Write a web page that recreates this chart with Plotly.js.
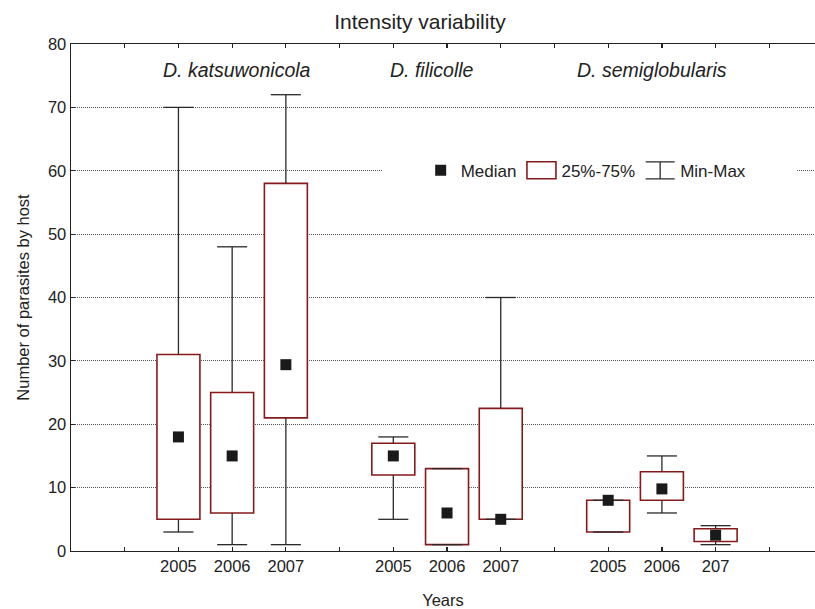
<!DOCTYPE html>
<html><head><meta charset="utf-8">
<script src="https://cdn.plot.ly/plotly-3.0.1.min.js"></script>
<style>html,body{margin:0;padding:0;background:#fff}#chart{width:815px;height:609px}</style>
</head><body><div id="chart"></div>
<script>
// ---- data ----
const species = ['D. katsuwonicola', 'D. filicolle', 'D. semiglobularis'];
const speciesIndex = [0, 0, 0, 1, 1, 1, 2, 2, 2];
const yearLabels = ['2005', '2006', '2007', '2005', '2006', '2007', '2005', '2006', '207'];
const minVals    = [3, 1, 1, 5, 1, 5, 3, 6, 1];
const q1Vals     = [5, 6, 21, 12, 1, 5, 3, 8, 1.5];
const medianVals = [18, 15, 29.4, 15, 6, 5, 8, 9.8, 2.5];
const q3Vals     = [31, 25, 58, 17, 13, 22.5, 8, 12.5, 3.5];
const maxVals    = [70, 48, 72, 18, 13, 40, 8, 15, 4];
const legendNames = ['Median', '25%-75%', 'Min-Max'];

// ---- layout helpers ----
const FONT = 'Arial, "Liberation Sans", sans-serif';
const TXT = '#222';
const BOXRED = '#861a1a';
const groupSize = 3, groupStep = 4, firstPos = 2;
const positions = speciesIndex.map((g, i) => {
  const within = i - speciesIndex.indexOf(g);
  return firstPos + g * groupStep + within;
});
const lastTick = firstPos + (species.length - 1) * groupStep + groupSize;
const tickvals = [], ticktext = [];
for (let t = 1; t <= lastTick; t++) {
  tickvals.push(t);
  const k = positions.indexOf(t);
  ticktext.push(k >= 0 ? yearLabels[k] : '');
}

// whisker segments (outside the boxes) + caps
const capHalf = 0.28;
const wx = [], wy = [];
positions.forEach((p, i) => {
  wx.push(p, p, null, p, p, null, p - capHalf, p + capHalf, null, p - capHalf, p + capHalf, null);
  wy.push(minVals[i], q1Vals[i], null, q3Vals[i], maxVals[i], null,
          minVals[i], minVals[i], null, maxVals[i], maxVals[i], null);
});

const whiskers = {
  type: 'scatter', mode: 'lines', x: wx, y: wy, name: legendNames[2],
  legendrank: 3, line: {color: '#2a2a2a', width: 1.3}, hoverinfo: 'skip'
};
const medians = {
  type: 'scatter', mode: 'markers', x: positions, y: medianVals, name: legendNames[0],
  legendrank: 1, marker: {symbol: 'square', size: 11, color: '#1a1a1a'}
};
const boxes = {
  type: 'bar', x: positions, base: q1Vals, y: q3Vals.map((q, i) => q - q1Vals[i]),
  width: 0.8, name: legendNames[1], legendrank: 2,
  marker: {color: '#ffffff', line: {color: BOXRED, width: 1.6}}
};

const groupShift = [5, -15, -10];
const annotations = species.map((s, g) => ({
  x: firstPos + g * groupStep + 1, y: 75.9, xref: 'x', yref: 'y',
  xshift: groupShift[g],
  text: '<i>' + s + '</i>', showarrow: false,
  font: {family: FONT, size: 19.5, color: TXT}, xanchor: 'center', yanchor: 'middle'
}));

const layout = {
  width: 815, height: 609,
  margin: {l: 71, r: 0, t: 44, b: 58},
  paper_bgcolor: '#fff', plot_bgcolor: '#fff',
  font: {family: FONT, color: TXT, size: 16.5},
  title: {text: 'Intensity variability', font: {family: FONT, size: 21, color: TXT},
          x: 420 / 815, xref: 'container', xanchor: 'center',
          y: 1 - 22 / 609, yref: 'container', yanchor: 'middle'},
  showlegend: true,
  legend: {orientation: 'h', x: 0.47, xanchor: 'left', y: 0.75, yanchor: 'middle',
           bgcolor: 'rgba(255,255,255,0)', font: {family: FONT, size: 17, color: TXT},
           traceorder: 'normal'},
  xaxis: {
    range: [0, 13.85], tickmode: 'array', tickvals: tickvals, ticktext: ticktext,
    ticks: 'inside', ticklen: 4, tickwidth: 1.2, tickcolor: TXT,
    showline: true, linecolor: TXT, linewidth: 1.4, mirror: 'ticks',
    showgrid: false, zeroline: false,
    tickfont: {family: FONT, size: 16.5, color: TXT},
    title: {text: 'Years', font: {family: FONT, size: 16.5, color: TXT}, standoff: 21}
  },
  yaxis: {
    range: [0, 80], tickmode: 'array', tickvals: [0, 10, 20, 30, 40, 50, 60, 70, 80],
    ticks: 'inside', ticklen: 4, tickwidth: 1.2, tickcolor: TXT,
    showline: true, linecolor: TXT, linewidth: 1.4,
    showgrid: true, gridcolor: '#555', gridwidth: 1, griddash: '1px,1px', zeroline: false,
    tickfont: {family: FONT, size: 16.5, color: TXT},
    title: {text: 'Number of parasites by host', font: {family: FONT, size: 16.5, color: TXT}, standoff: 14}
  },
  shapes: [{type: 'rect', xref: 'paper', yref: 'y', x0: (383 - 71) / 744, x1: (797 - 71) / 744,
            y0: 59.7, y1: 60.3, fillcolor: '#fff', line: {width: 0}, layer: 'above'}],
  annotations: annotations
};

Plotly.newPlot('chart', [whiskers, medians, boxes], layout, {displayModeBar: false, staticPlot: true})
.then(function (gd) {
  // legend icons: rectangle for the box, I-beam for min-max
  gd.querySelectorAll('.legend .traces').forEach(function (g) {
    const label = g.querySelector('.legendtext').textContent;
    if (label === legendNames[1]) {
      g.querySelectorAll('.legendpoints path').forEach(function (p) {
        p.setAttribute('d', 'M14.5,8.5H-14.5V-8.5H14.5Z');
      });
    } else if (label === legendNames[2]) {
      g.querySelectorAll('.legendlines path').forEach(function (p) {
        p.setAttribute('d', 'M5.5,-8.5h29M20,-8.5v17M5.5,8.5h29');
      });
    }
  });
});
</script></body></html>
